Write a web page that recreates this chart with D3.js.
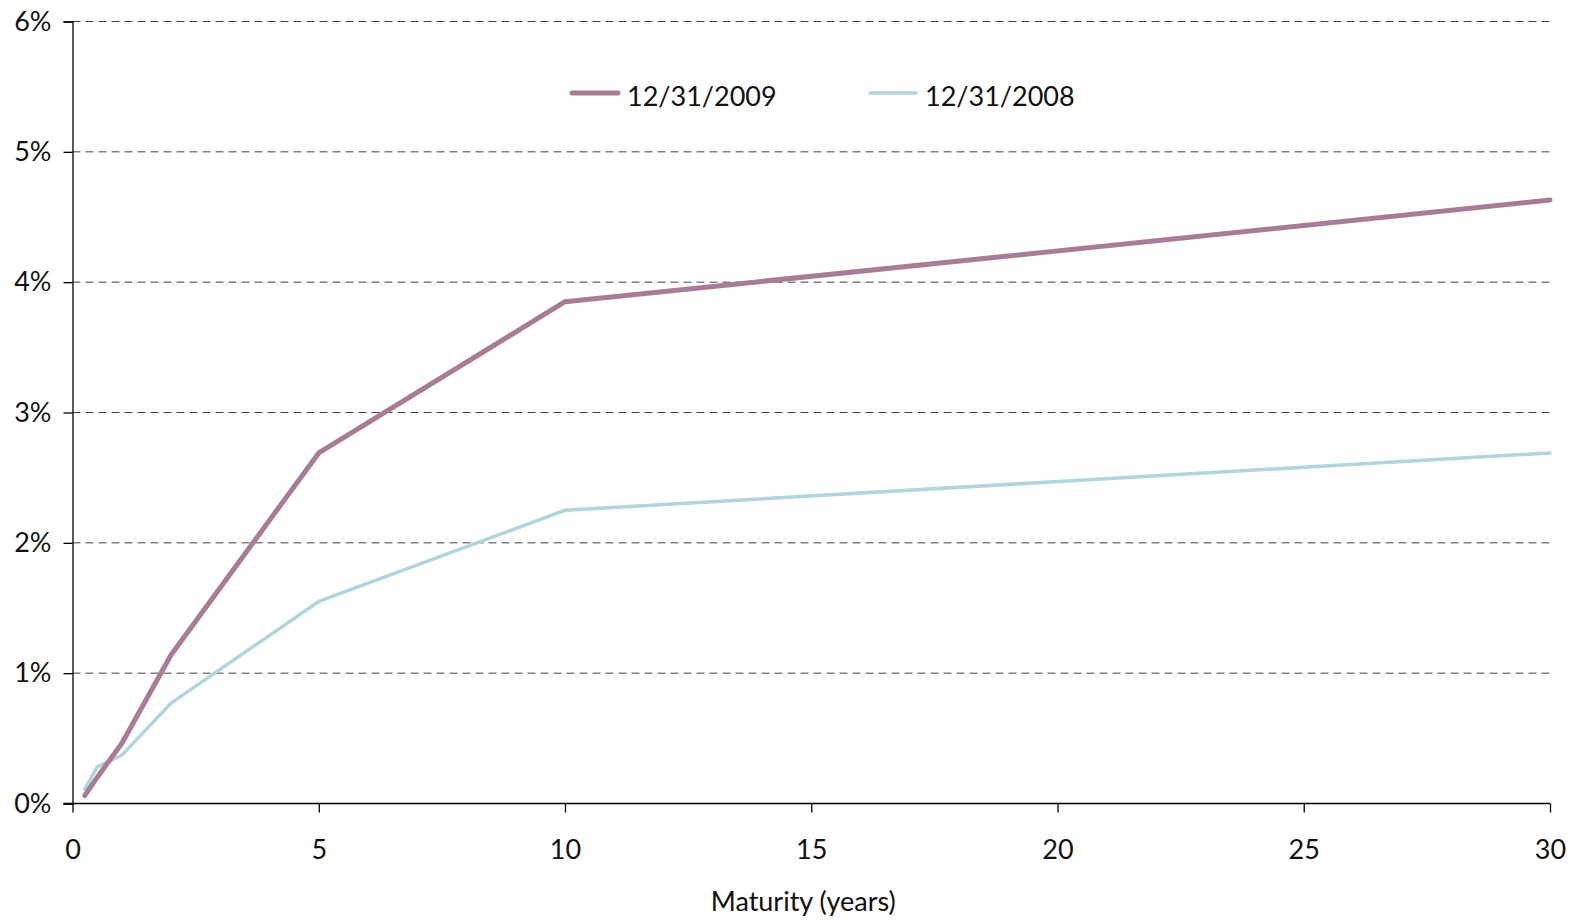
<!DOCTYPE html>
<html>
<head>
<meta charset="utf-8">
<script src="https://cdn.jsdelivr.net/npm/d3@7"></script>
<style>
  html, body { margin: 0; padding: 0; background: #fff; }
  svg { display: block; font-family: "Lato", "Open Sans", sans-serif; }
</style>
</head>
<body>
<svg id="chart" width="1575" height="920"></svg>
<script>
// Treasury yield curves (maturity in years, yield in %)
const maturities = [0.25, 0.5, 1, 2, 5, 10, 30];
const yields2009 = [0.06, 0.20, 0.46, 1.14, 2.69, 3.85, 4.63];
const yields2008 = [0.11, 0.28, 0.37, 0.77, 1.55, 2.25, 2.69];
const seriesNames = ["12/31/2009", "12/31/2008"];
const xTicks = [0, 5, 10, 15, 20, 25, 30];
const yTicks = [0, 1, 2, 3, 4, 5, 6];

const svg = d3.select("#chart");
const plotLeft = 72.5, plotRight = 1550, plotTop = 21.5, plotBottom = 803.5;

const x = d3.scaleLinear().domain([0, 30]).range([plotLeft, plotRight]);
const y = d3.scaleLinear().domain([0, 6]).range([plotBottom, plotTop]);

// dashed horizontal gridlines
svg.append("g")
  .selectAll("line")
  .data(yTicks.filter(d => d > 0))
  .join("line")
  .attr("x1", plotLeft).attr("x2", plotRight)
  .attr("y1", d => y(d)).attr("y2", d => y(d))
  .attr("stroke", "#444")
  .attr("stroke-width", 1)
  .attr("stroke-dasharray", "8,5");

// y axis
const yAxis = svg.append("g")
  .attr("transform", `translate(${plotLeft},0)`)
  .call(d3.axisLeft(y).tickValues(yTicks).tickFormat(d => d + "%").tickSize(9).tickPadding(12));
yAxis.select(".domain").attr("stroke", "#000").attr("stroke-width", 1.3);
yAxis.selectAll(".tick line").attr("stroke", "#000").attr("stroke-width", 1.3);
yAxis.selectAll(".tick text").attr("font-size", 27).attr("fill", "#111")
  .attr("font-family", "Lato, sans-serif");

// x axis
const xAxis = svg.append("g")
  .attr("transform", `translate(0,${plotBottom})`)
  .call(d3.axisBottom(x).tickValues(xTicks).tickSize(9).tickPadding(27));
xAxis.select(".domain").attr("stroke", "#000").attr("stroke-width", 1.3)
  .attr("d", `M${plotLeft - 9},0H${plotRight}`);
xAxis.selectAll(".tick line").attr("stroke", "#000").attr("stroke-width", 1.3);
xAxis.selectAll(".tick text").attr("font-size", 27).attr("fill", "#111")
  .attr("font-family", "Lato, sans-serif");

// axis title
svg.append("text")
  .attr("x", (plotLeft + plotRight) / 2 - 8)
  .attr("y", 911)
  .attr("text-anchor", "middle")
  .attr("font-size", 27)
  .attr("fill", "#111")
  .text("Maturity (years)");

const line = d3.line().x(d => x(d[0])).y(d => y(d[1]));
const colors = ["#aa7c94", "#afd6dc"];
const widths = [5, 3.5];
const data = [yields2009, yields2008];

// draw 2008 first so 2009 sits on top
[1, 0].forEach(i => {
  svg.append("path")
    .datum(maturities.map((m, k) => [m, data[i][k]]))
    .attr("fill", "none")
    .attr("stroke", colors[i])
    .attr("stroke-width", widths[i])
    .attr("stroke-linejoin", "round")
    .attr("stroke-linecap", "round")
    .attr("d", line);
});

// legend
const legendX = [572, 870];
const legend = svg.append("g");
seriesNames.forEach((name, i) => {
  legend.append("line")
    .attr("x1", legendX[i]).attr("x2", legendX[i] + 46)
    .attr("y1", 93).attr("y2", 93)
    .attr("stroke", colors[i])
    .attr("stroke-width", widths[i])
    .attr("stroke-linecap", "round");
  legend.append("text")
    .attr("x", legendX[i] + 55)
    .attr("y", 106)
    .attr("font-size", 27)
    .attr("fill", "#111")
    .text(name);
});
</script>
</body>
</html>
